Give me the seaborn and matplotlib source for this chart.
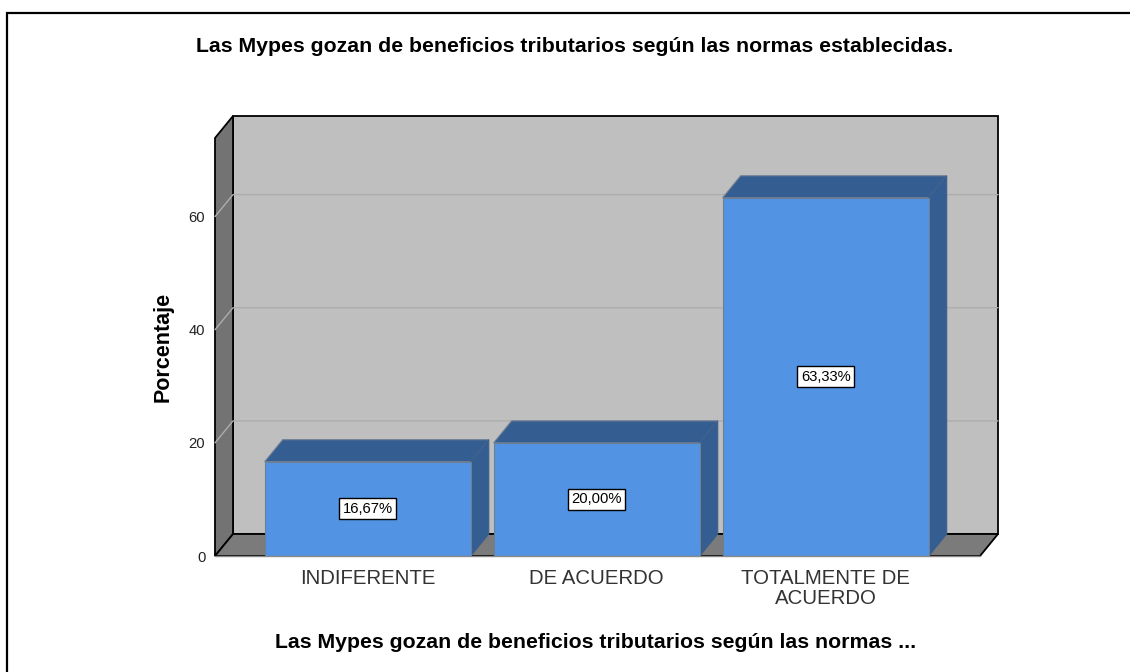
import matplotlib
matplotlib.use("Agg")
import matplotlib.pyplot as plt
import pandas as pd
import seaborn as sns
from matplotlib.lines import Line2D
from matplotlib.patches import Polygon, Rectangle

# Data
categorias = ["INDIFERENTE", "DE ACUERDO", "TOTALMENTE DE\nACUERDO"]
porcentajes = [16.67, 20.00, 63.33]
etiquetas = ["16,67%", "20,00%", "63,33%"]
marcas_y = [0, 20, 40, 60]

titulo = "Las Mypes gozan de beneficios tributarios según las normas establecidas."
titulo_x = "Las Mypes gozan de beneficios tributarios según las normas ..."
titulo_y = "Porcentaje"

sns.set_theme(style="white")
plt.rcParams["font.family"] = ["Liberation Sans", "DejaVu Sans"]

AZUL = "#5294e3"
AZUL_OSC = "#345d91"
PARED = "#bfbfbf"
LADO = "#737373"
PISO = "#7b7b7b"
GRID = "#adadad"

W, H = 1130, 672
fig = plt.figure(figsize=(W / 100, H / 100), dpi=100, facecolor="white")

# front plane of the chart in pixels
izq, der, arriba, abajo = 215, 980, 138, 556
ax = fig.add_axes([izq / W, 1 - abajo / H, (der - izq) / W, (abajo - arriba) / H])
ax.set_facecolor("none")

df = pd.DataFrame({"cat": categorias, "pct": porcentajes})
sns.barplot(data=df, x="cat", y="pct", color=AZUL, saturation=1, width=0.9,
            edgecolor="#6f7f93", linewidth=0.8, ax=ax, zorder=5)

ax.set_xlim(-0.667, 2.674)
ax.set_ylim(0, 73.9)

# depth of the fake 3D box, in data units
x0, x1 = ax.get_xlim()
y0, y1 = ax.get_ylim()
px_x = (der - izq) / (x1 - x0)
px_y = (abajo - arriba) / (y1 - y0)
dx = 18 / px_x
dy = 22 / px_y


def poly(pts, color, z, ec="none", lw=0):
    ax.add_patch(Polygon(pts, closed=True, facecolor=color, edgecolor=ec, linewidth=lw,
                         zorder=z, clip_on=False, joinstyle="miter"))


# back wall, left wall, floor
ax.add_patch(Rectangle((x0 + dx, y0 + dy), x1 - x0, y1 - y0, facecolor=PARED,
                       edgecolor="black", linewidth=1.3, zorder=1, clip_on=False))
poly([(x0, y0), (x0 + dx, y0 + dy), (x0 + dx, y1 + dy), (x0, y1)], LADO, 2, "black", 1.3)
poly([(x0, y0), (x1, y0), (x1 + dx, y0 + dy), (x0 + dx, y0 + dy)], PISO, 2, "black", 1.3)

# grid on the walls
for v in marcas_y[1:]:
    ax.plot([x0, x0 + dx, x1 + dx], [v, v + dy, v + dy], color=GRID, lw=1, zorder=3, clip_on=False)

# bar sides and tops
for barra, etq in zip(ax.patches[:3], etiquetas):
    a = barra.get_x()
    b = a + barra.get_width()
    h = barra.get_height()
    poly([(a, h), (b, h), (b + dx, h + dy), (a + dx, h + dy)], AZUL_OSC, 4, "#6f7f93", 0.8)
    poly([(b, 0), (b + dx, dy), (b + dx, h + dy), (b, h)], AZUL_OSC, 4, "#3d5f8c", 0.8)
    ax.text((a + b) / 2, h / 2, etq, ha="center", va="center", fontsize=10.6, color="black", zorder=7,
            bbox=dict(boxstyle="square,pad=0.24", facecolor="white", edgecolor="black", linewidth=1))

ax.set_yticks(marcas_y)
ax.set_xlabel("")
ax.set_ylabel("")
ax.tick_params(axis="y", length=0, labelsize=10.6, labelcolor="#222222", pad=7)
ax.tick_params(axis="x", length=0, labelsize=14.7, labelcolor="#333333", pad=9)
for lab in ax.get_xticklabels():
    lab.set_linespacing(1.1)
sns.despine(ax=ax, left=True, bottom=True, top=True, right=True)

# front baseline
ax.plot([x0, x1], [0, 0], color="#8a8a8a", lw=1, zorder=6, clip_on=False)

fig.text(575 / W, 1 - 46 / H, titulo, ha="center", va="center", fontsize=15.3, fontweight="bold", color="black")
fig.text(596 / W, 1 - 643 / H, titulo_x, ha="center", va="center", fontsize=15.3, fontweight="bold", color="black")
fig.text(163 / W, 1 - 347 / H, titulo_y, ha="center", va="center", rotation=90, fontsize=15.5, fontweight="bold", color="black")

# image border, only top and left
fig.add_artist(Line2D([7 / W, 7 / W, 1], [0, 1 - 13 / H, 1 - 13 / H], transform=fig.transFigure,
                      color="black", linewidth=1.6, solid_joinstyle="miter"))

fig.savefig("out.png", dpi=100)
